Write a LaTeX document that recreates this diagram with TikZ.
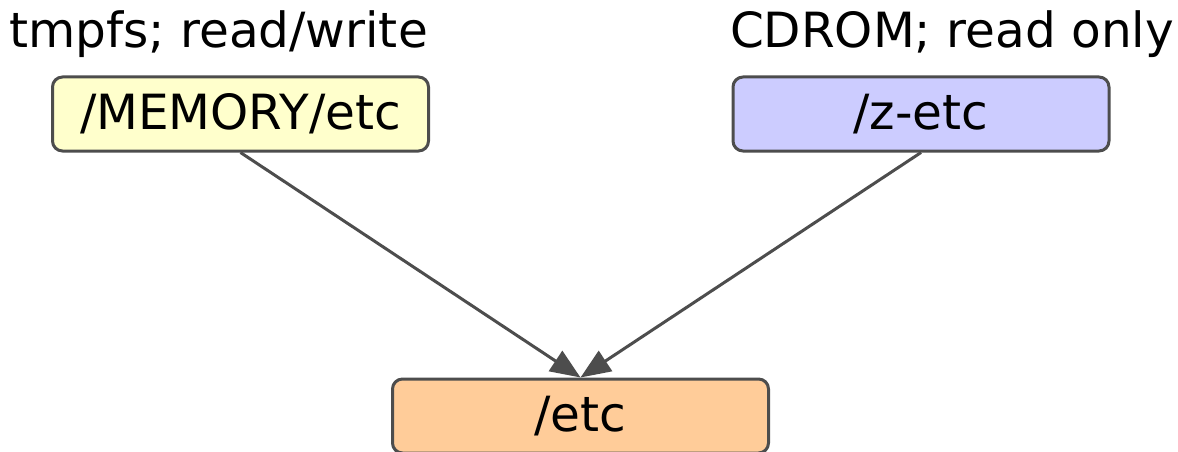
\documentclass[tikz,border=0pt]{standalone}
\usepackage{fontspec}
\setmainfont{DejaVu Sans}
\usetikzlibrary{arrows.meta, positioning}
\definecolor{edgegray}{HTML}{4D4D4D}
\definecolor{memfill}{HTML}{FFFFCC}
\definecolor{cdfill}{HTML}{CCCCFF}
\definecolor{etcfill}{HTML}{FFCC99}

\begin{document}
\begin{tikzpicture}[x=1pt,y=-1pt,>={Triangle[length=30pt,width=24pt]},
    thick,dir node/.style={draw=edgegray,line width=3pt,rounded corners=10pt,
      minimum width=376pt,minimum height=74pt,inner sep=0pt,font=\fontsize{48.5}{58}\selectfont},
    note/.style={font=\fontsize{48.5}{58}\selectfont,inner sep=0pt}]
\useasboundingbox (0,0) rectangle (1178,452);

\node[dir node, fill=memfill]   (mem)   at (240.5,114)  {/MEMORY/etc};
\node[dir node, fill=cdfill]    (zetc)  at (921,114)    {/z-etc};
\node[dir node, fill=etcfill]   (etc)   at (580.5,416)  {/etc};

\node[note, anchor=base] (memnote) at (218.5,48) {tmpfs; read/write};
\node[note, anchor=base] (cdnote)  at (952,48)   {CDROM; read only};

\path[every edge/.style={draw=edgegray,fill=edgegray,line width=3pt,->}]
(mem.south)  edge (etc.north)
(zetc.south) edge (etc.north)
;
\end{tikzpicture}
\end{document}
